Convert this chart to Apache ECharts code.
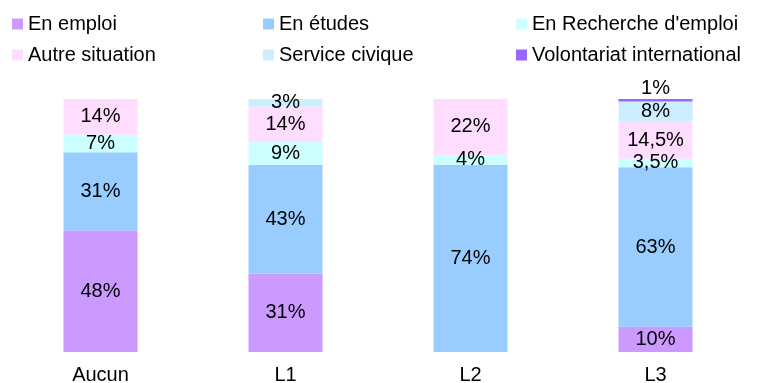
<!DOCTYPE html>
<html>
<head>
<meta charset="utf-8">
<script src="https://cdn.jsdelivr.net/npm/echarts@6/dist/echarts.min.js"></script>
<style>
  html, body { margin: 0; padding: 0; background: #fff; overflow: hidden; }
  #chart { width: 758px; height: 383px; }
</style>
</head>
<body>
<div id="chart"></div>
<script>
// Situation by level (percent of each group)
const categories = ['Aucun', 'L1', 'L2', 'L3'];
const seriesNames = ['En emploi', 'En études', "En Recherche d'emploi", 'Autre situation', 'Service civique', 'Volontariat international'];
const enEmploi = [48, 31, null, 10];
const enEtudes = [31, 43, 74, 63];
const enRecherche = [7, 9, 4, 3.5];
const autreSituation = [14, 14, 22, 14.5];
const serviceCivique = [null, 3, null, 8];
const volontariat = [null, null, null, 1];

const values = [enEmploi, enEtudes, enRecherche, autreSituation, serviceCivique, volontariat];
const colors = ['#cc99ff', '#99ccff', '#ccffff', '#ffddff', '#cceeff', '#9966ff'];

const FONT = '"Liberation Sans", Arial, Helvetica, sans-serif';

function fmt(p) {
  return String(p.value).replace('.', ',') + '%';
}

const series = seriesNames.map((name, i) => ({
  name: name,
  type: 'bar',
  stack: 'total',
  barWidth: '40%',
  data: values[i],
  itemStyle: { color: colors[i] },
  label: {
    show: true,
    position: i === 5 ? 'top' : 'inside',
    distance: 1,
    color: '#000',
    fontFamily: FONT,
    fontSize: 20,
    formatter: fmt
  }
}));

// Legend laid out in three columns of two rows
const legendPos = [
  { left: 12, top: 14 }, { left: 263, top: 14 }, { left: 516, top: 14 },
  { left: 12, top: 45 }, { left: 263, top: 45 }, { left: 516, top: 45 }
];
const legends = seriesNames.map((name, k) => ({
  data: [name],
  left: legendPos[k].left,
  top: legendPos[k].top,
  padding: 0,
  icon: 'rect',
  itemWidth: 11,
  itemHeight: 11,
  itemGap: 0,
  selectedMode: false,
  textStyle: { fontFamily: FONT, fontSize: 20, color: '#000' }
}));

const chart = echarts.init(document.getElementById('chart'), null, { renderer: 'canvas' });
chart.setOption({
  animation: false,
  backgroundColor: '#fff',
  legend: legends,
  grid: { left: 8, right: 10, top: 99, bottom: 31, containLabel: false, outerBoundsMode: 'none' },
  xAxis: {
    type: 'category',
    data: categories,
    axisLine: { show: false },
    axisTick: { show: false },
    axisLabel: { color: '#000', fontFamily: FONT, fontSize: 20, margin: 13 }
  },
  yAxis: {
    type: 'value',
    min: 0,
    max: 100,
    show: false,
    splitLine: { show: false }
  },
  series: series
});
</script>
</body>
</html>
